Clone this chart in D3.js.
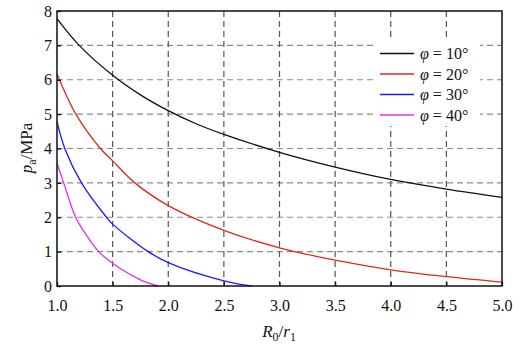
<!DOCTYPE html>
<html>
<head>
<meta charset="utf-8">
<script src="https://cdn.jsdelivr.net/npm/d3@7"></script>
<style>
  body { margin: 0; background: #fff; }
  svg text { font-family: 'Liberation Serif', 'Times New Roman', Times, 'DejaVu Serif', serif !important; fill: #111; }
</style>
</head>
<body>
<svg id="rootSVG" width="521" height="344"></svg>
<script>
// values (R0/r1 -> pa in MPa)
const xTicks = [1.0, 1.5, 2.0, 2.5, 3.0, 3.5, 4.0, 4.5, 5.0];
const yTicks = [0, 1, 2, 3, 4, 5, 6, 7, 8];

const phi10 = [[1.0, 7.78], [1.2, 7.0], [1.5, 6.13], [1.75, 5.56], [2.0, 5.10], [2.25, 4.72], [2.5, 4.41],
  [3.0, 3.89], [3.5, 3.46], [4.0, 3.10], [4.5, 2.82], [5.0, 2.58]];
const phi20 = [[1.0, 6.17], [1.17, 5.0], [1.39, 4.0], [1.5, 3.64], [1.7, 3.0], [2.0, 2.34], [2.5, 1.62],
  [3.0, 1.11], [3.5, 0.75], [4.0, 0.47], [4.5, 0.27], [5.0, 0.11]];
const phi30 = [[1.0, 4.78], [1.07, 4.0], [1.22, 3.0], [1.445, 2.0], [1.5, 1.80], [1.82, 1.0], [2.0, 0.68],
  [2.5, 0.15], [2.75, 0.0]];
const phi40 = [[1.0, 3.58], [1.06, 3.0], [1.167, 2.0], [1.25, 1.55], [1.375, 1.0], [1.5, 0.66], [1.75, 0.18],
  [1.91, 0.0]];

const seriesNames = ["10", "20", "30", "40"];
const seriesData = [phi10, phi20, phi30, phi40];
const seriesColors = ["#111111", "#dd2a1a", "#1a1aff", "#e030e8"];

const svg = d3.select("#rootSVG");
const mLeft = 57, mRight = 502, mTop = 11, mBottom = 286;

const x = d3.scaleLinear().domain([1, 5]).range([mLeft, mRight]);
const y = d3.scaleLinear().domain([0, 8]).range([mBottom, mTop]);

// grid
svg.append("g").selectAll("line").data(yTicks.slice(1, -1)).enter().append("line")
  .attr("x1", mLeft).attr("x2", mRight)
  .attr("y1", d => y(d)).attr("y2", d => y(d))
  .attr("stroke", "#8a8a8a").attr("stroke-width", 1.2).attr("stroke-dasharray", "6,4");
svg.append("g").selectAll("line").data(xTicks.slice(1, -1)).enter().append("line")
  .attr("x1", d => x(d)).attr("x2", d => x(d))
  .attr("y1", mTop).attr("y2", mBottom)
  .attr("stroke", "#555").attr("stroke-width", 1.2).attr("stroke-dasharray", "6,4");

// legend background hides the grid
svg.append("rect").attr("x", 376).attr("y", 38).attr("width", 104).attr("height", 88).attr("fill", "#fff");

// curves
const line = d3.line().x(d => x(d[0])).y(d => y(d[1])).curve(d3.curveCatmullRom.alpha(0.5));
svg.append("g").selectAll("path").data(seriesData).enter().append("path")
  .attr("d", line)
  .attr("fill", "none")
  .attr("stroke", (d, i) => seriesColors[i])
  .attr("stroke-width", 1.3);

// axes with inward ticks
svg.append("g").attr("transform", `translate(0,${mBottom})`)
  .call(d3.axisBottom(x).tickValues(xTicks).tickSizeInner(-4).tickSizeOuter(0).tickPadding(14)
    .tickFormat(d3.format(".1f")))
  .call(g => g.select(".domain").remove())
  .call(g => g.selectAll("line").attr("stroke", "#111").attr("stroke-width", 1.3))
  .call(g => g.selectAll("text").attr("font-size", 16).attr("fill", "#111"));

svg.append("g").attr("transform", `translate(${mLeft},0)`)
  .call(d3.axisLeft(y).tickValues(yTicks).tickSizeInner(-4).tickSizeOuter(0).tickPadding(5))
  .call(g => g.select(".domain").remove())
  .call(g => g.selectAll("line").attr("stroke", "#111").attr("stroke-width", 1.3))
  .call(g => g.selectAll("text").attr("font-size", 16).attr("fill", "#111"));

// frame
svg.append("rect").attr("x", mLeft).attr("y", mTop)
  .attr("width", mRight - mLeft).attr("height", mBottom - mTop)
  .attr("fill", "none").attr("stroke", "#111").attr("stroke-width", 1.5);

// legend
const legend = svg.append("g").selectAll("g").data(seriesNames).enter().append("g")
  .attr("transform", (d, i) => `translate(0,${53.5 + i * 20.5})`);
legend.append("line").attr("x1", 380).attr("x2", 414).attr("y1", 0).attr("y2", 0)
  .attr("stroke", (d, i) => seriesColors[i]).attr("stroke-width", 1.3);
const lt = legend.append("text").attr("x", 420).attr("y", 5.5).attr("font-size", 16);
lt.append("tspan").attr("font-style", "italic").text("φ");
lt.append("tspan").text(d => " = " + d + "°");

// axis titles
const xt = svg.append("text").attr("x", 279).attr("y", 337).attr("text-anchor", "middle").attr("font-size", 17);
xt.append("tspan").attr("font-style", "italic").text("R");
xt.append("tspan").attr("font-size", 12).attr("dy", 4).text("0");
xt.append("tspan").attr("dy", -4).text("/");
xt.append("tspan").attr("font-style", "italic").text("r");
xt.append("tspan").attr("font-size", 12).attr("dy", 4).text("1");

const yt = svg.append("text").attr("transform", "translate(32,148) rotate(-90)")
  .attr("text-anchor", "middle").attr("font-size", 17);
yt.append("tspan").attr("font-style", "italic").text("p");
yt.append("tspan").attr("font-size", 12).attr("dy", 4).text("a");
yt.append("tspan").attr("dy", -4).text("/MPa");
</script>
</body>
</html>
